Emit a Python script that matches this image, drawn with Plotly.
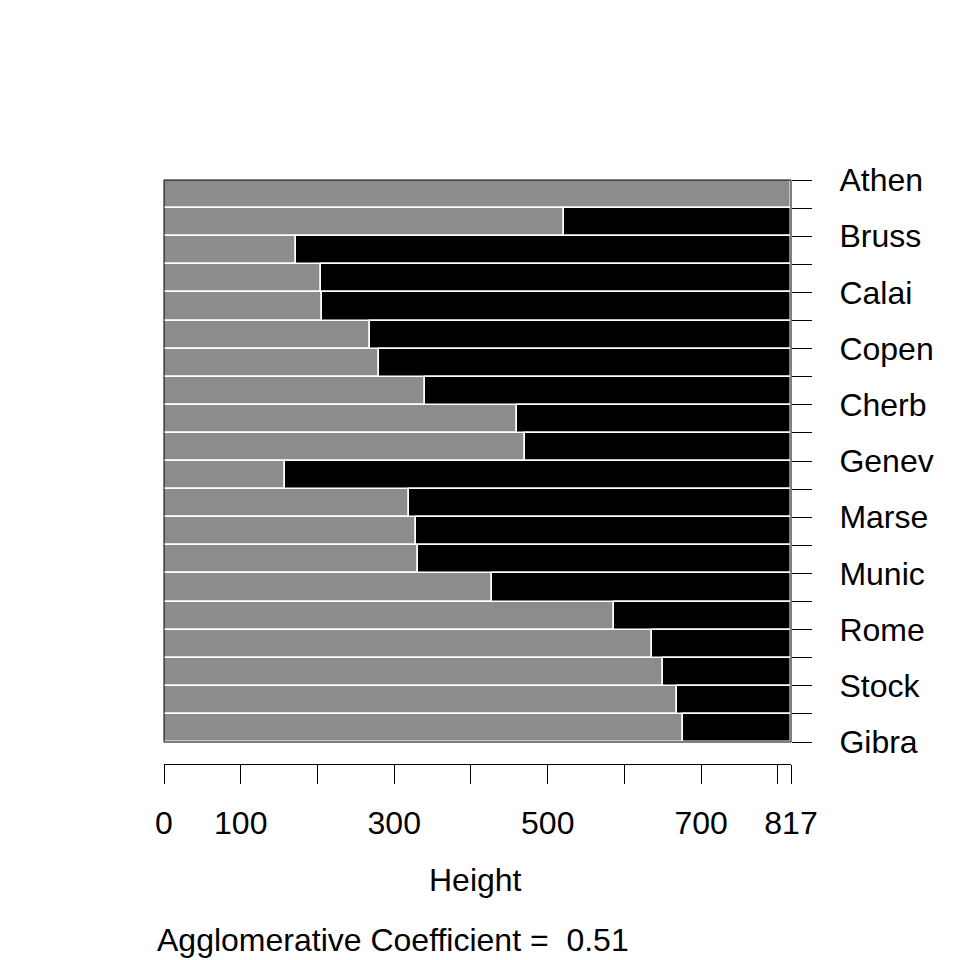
import plotly.graph_objects as go

# merge heights of the banner bars, top to bottom
heights = [817, 521, 172, 204, 206, 269, 280, 340, 460, 471,
           158, 319, 328, 331, 428, 586, 636, 650, 668, 676]
max_height = 817
# labels shown on the right (every other observation)
shown_labels = ["Athen", "Bruss", "Calai", "Copen", "Cherb", "Genev",
                "Marse", "Munic", "Rome", "Stock", "Gibra"]
x_tickvals = [0, 100, 200, 300, 400, 500, 600, 700, 800, 817]
x_ticktext = ["0", "100", "", "300", "", "500", "", "700", "", "817"]
coef_text = "Agglomerative Coefficient =  0.51"

n = len(heights)
ypos = [i + 0.5 for i in range(n)]
black_w = [(max_height - h) if max_height - h > 0 else None for h in heights]

obs_ticks = list(range(n + 1))
obs_text = []
for i in obs_ticks:
    obs_text.append(shown_labels[i // 2] if i % 2 == 0 else "")

FONT = "Liberation Sans, Arial, sans-serif"
FS = 32
OFF = 8  # page body margin in the browser

fig = go.Figure()
fig.add_trace(go.Bar(
    y=ypos, x=heights, base=[0] * n, orientation="h", width=1,
    marker=dict(color="#8c8c8c", line=dict(color="white", width=1.5)),
    hoverinfo="skip", showlegend=False))
fig.add_trace(go.Bar(
    y=ypos, x=black_w, base=heights, orientation="h", width=1,
    marker=dict(color="black", line=dict(color="white", width=1.5)),
    hoverinfo="skip", showlegend=False))

# screen pixel geometry: plot x from 164 to 791, paper y 0 at 764, 1 at 180
L, R, T, B = 164, 791, 180, 764
def py(p):
    return (B - p) / (B - T)
def px(p):
    return (p - L) / (R - L)

fig.update_layout(
    width=960, height=960,
    margin=dict(l=L - OFF, r=960 - R + OFF, t=T - OFF, b=960 - B + OFF, pad=0),
    paper_bgcolor="white", plot_bgcolor="white",
    barmode="overlay", bargap=0,
    font=dict(family=FONT, size=FS, color="black"),
    xaxis=dict(range=[0, max_height], tickvals=x_tickvals, ticktext=x_ticktext,
               ticks="outside", ticklen=19, tickwidth=1, tickcolor="black",
               showline=True, linecolor="black", linewidth=1,
               showgrid=False, zeroline=False, anchor="free", position=0,
               ticklabelstandoff=12,
               tickfont=dict(family=FONT, size=FS, color="black")),
    yaxis=dict(range=[n, 0], domain=[py(742), 1], side="right",
               tickvals=obs_ticks, ticktext=obs_text,
               ticks="outside", ticklen=20, tickwidth=1, tickcolor="black",
               showline=False, showgrid=False, zeroline=False,
               ticklabelstandoff=21,
               tickfont=dict(family=FONT, size=FS, color="black")),
    shapes=[dict(type="rect", xref="x domain", yref="y domain",
                 x0=0, x1=1, y0=0, y1=1, line=dict(color="black", width=1),
                 fillcolor="rgba(0,0,0,0)", layer="above")],
    annotations=[
        dict(text="Height", xref="paper", yref="paper", x=px(475), y=py(880),
             xanchor="center", yanchor="middle", showarrow=False,
             font=dict(family=FONT, size=FS, color="black")),
        dict(text=coef_text, xref="paper", yref="paper", x=px(155), y=py(940),
             xanchor="left", yanchor="middle", showarrow=False,
             font=dict(family=FONT, size=FS, color="black")),
    ],
)

fig.write_html("out.html", config={"displayModeBar": False})
